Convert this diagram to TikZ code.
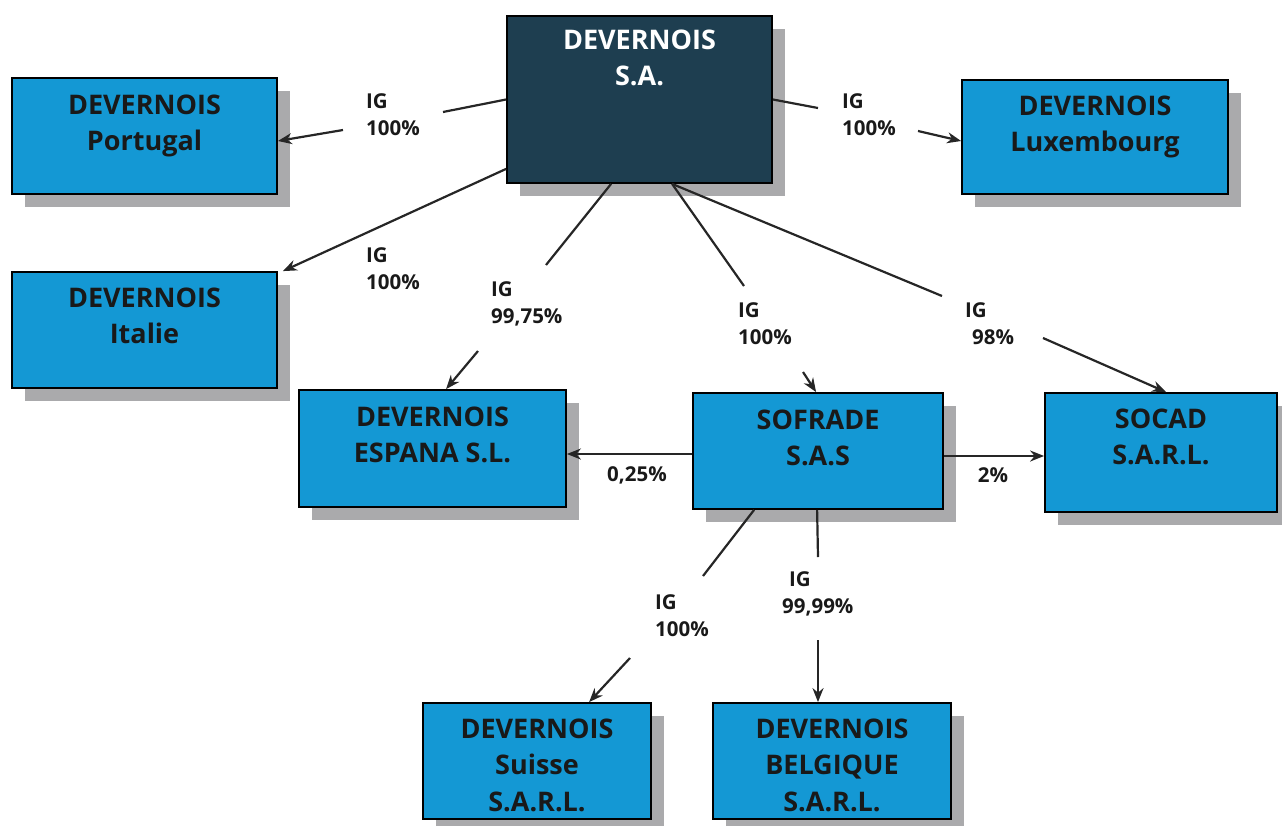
\documentclass[tikz,border=0pt]{standalone}
\usepackage{fontspec}
\setmainfont{Open Sans}
\usetikzlibrary{arrows.meta,shadows}
\definecolor{boxblue}{RGB}{20,152,212}
\definecolor{topblue}{RGB}{30,62,80}
\definecolor{shgray}{RGB}{170,170,172}
\begin{document}
\begin{tikzpicture}[x=1pt,y=-1pt,
  box/.style={draw=black, line width=1.8pt, fill=boxblue, align=center,
    inner xsep=2pt, inner ysep=0pt, text=black!90,
    font=\bfseries\fontsize{27}{36.5}\selectfont,
    drop shadow={shadow xshift=13pt, shadow yshift=-13pt, fill=shgray, opacity=1}},
  lbl/.style={align=left, inner sep=0pt, anchor=base west, text=black!90,
    font=\bfseries\fontsize{20.5}{27}\selectfont},
  conn/.style={line width=2.2pt, draw=black!85},
  arr/.style={conn, -{Stealth[length=14pt,width=11pt]}}
]
\useasboundingbox (0,0) rectangle (1282,825);
\clip (0,0) rectangle (1282,825);

% boxes
\node[box, fill=topblue, text=white, minimum width=265pt, minimum height=167pt, text height=69.5pt, text depth=97.5pt] (top) at (639.5,99.5) {DEVERNOIS\\S.A.};
\node[box, minimum width=265pt, minimum height=116pt, text height=72.5pt, text depth=43.5pt] (por) at (144.5,136) {DEVERNOIS\\Portugal};
\node[box, minimum width=266pt, minimum height=114pt, text height=71.5pt, text depth=42.5pt] (lux) at (1095,137) {DEVERNOIS\\Luxembourg};
\node[box, minimum width=265pt, minimum height=116pt, text height=71.5pt, text depth=44.5pt] (ita) at (144.5,330) {DEVERNOIS\\Italie};
\node[box, minimum width=267pt, minimum height=117pt, text height=72.5pt, text depth=44.5pt] (esp) at (432.5,448.5) {DEVERNOIS\\ESPANA S.L.};
\node[box, minimum width=250pt, minimum height=116pt, text height=72.5pt, text depth=43.5pt] (sof) at (818,451) {SOFRADE\\S.A.S};
\node[box, minimum width=232pt, minimum height=119pt, text height=71.5pt, text depth=47.5pt] (soc) at (1161,452.5) {SOCAD\\S.A.R.L.};
\node[box, minimum width=228pt, minimum height=116pt, text height=108pt, text depth=8pt] (sui) at (537,761) {DEVERNOIS\\Suisse\\S.A.R.L.};
\node[box, minimum width=238pt, minimum height=116pt, text height=108pt, text depth=8pt] (bel) at (832,761) {DEVERNOIS\\BELGIQUE\\S.A.R.L.};

% labels
\node[lbl] (lpor) at (366,135) {IG\\100\%};
\node[lbl] (llux) at (842,135) {IG\\100\%};
\node[lbl] (lita) at (366,289) {IG\\100\%};
\node[lbl] (lesp) at (491,323) {IG\\99,75\%};
\node[lbl] (lsof) at (738,344) {IG\\100\%};
\node[lbl] (lsoc) at (965,344) {IG\\\hspace*{7pt}98\%};
\node[lbl, anchor=base] (l025) at (637,481) {0,25\%};
\node[lbl, anchor=base] (l2) at (993,482) {2\%};
\node[lbl] (lsui) at (655,636) {IG\\100\%};
\node[lbl] (lbel) at (782,613) {\hspace*{7pt}IG\\99,99\%};

% break points
\coordinate (p1) at (443,112); \coordinate (p2) at (343,130);
\coordinate (x1) at (818,108); \coordinate (x2) at (918,131);
\coordinate (e1) at (546,265); \coordinate (e2) at (478,351);
\coordinate (s1) at (744,286); \coordinate (s2) at (803,372);
\coordinate (c1) at (942,296); \coordinate (c2) at (1043,338);
\coordinate (u1) at (703,576); \coordinate (u2) at (630,658);
\coordinate (b1) at (818,557); \coordinate (b2) at (818,640);

% connectors
\draw[conn] (top.west) -- (p1);
\draw[arr] (p2) -- ([yshift=-5pt]por.east);
\draw[conn] (top.east) -- (x1);
\draw[arr] (x2) -- ([yshift=-4pt]lux.west);
\draw[arr] ([yshift=15pt]top.south west) -- ([xshift=5pt]ita.north east);
\draw[conn] ([xshift=105pt]top.south west) -- (e1);
\draw[arr] (e2) -- ([xshift=148pt]esp.north west);
\draw[conn] ([xshift=166pt]top.south west) -- (s1);
\draw[arr] (s2) -- ([xshift=124pt]sof.north west);
\draw[conn] ([xshift=166pt]top.south west) -- (c1);
\draw[arr] (c2) -- ([xshift=122pt]soc.north west);
\draw[arr] ([yshift=-3pt]sof.west) -- ([yshift=-3pt]sof.west -| esp.east);
\draw[arr] ([yshift=-5pt]sof.east) -- ([yshift=-5pt]sof.east -| soc.west);
\draw[conn] ([xshift=62pt]sof.south west) -- (u1);
\draw[arr] (u2) -- ([xshift=167pt]sui.north west);
\draw[conn] ([xshift=125pt]sof.south west) -- (b1);
\draw[arr] (b2) -- (b2 |- bel.north);
\end{tikzpicture}
\end{document}
